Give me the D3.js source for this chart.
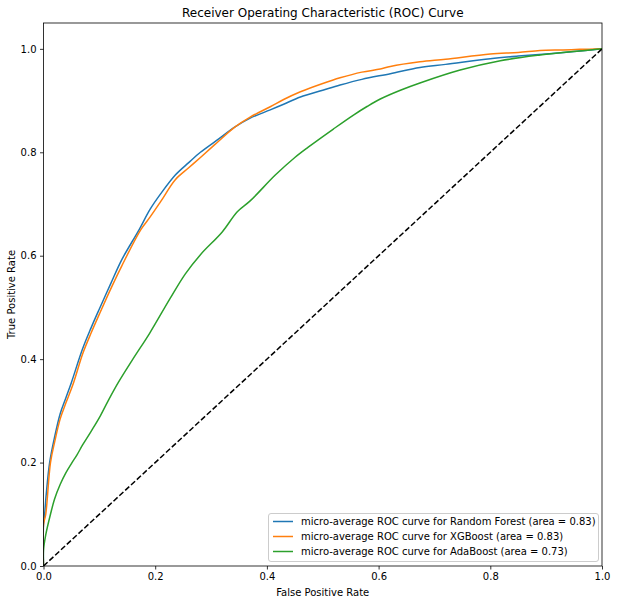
<!DOCTYPE html>
<html>
<head>
<meta charset="utf-8">
<script src="https://cdn.jsdelivr.net/npm/d3@7"></script>
<style>
  body { margin: 0; background: #fff; }
  svg { display: block; font-family: "DejaVu Sans", sans-serif; }
</style>
</head>
<body>
<svg id="chart" width="617" height="604"></svg>
<script>
const seriesNames = [
  "micro-average ROC curve for Random Forest (area = 0.83)",
  "micro-average ROC curve for XGBoost (area = 0.83)",
  "micro-average ROC curve for AdaBoost (area = 0.73)"
];
const seriesColors = ["#1f77b4", "#ff7f0e", "#2ca02c"];

const rfFpr = [0, 0, 0.002, 0.005, 0.011, 0.02, 0.03, 0.04, 0.05, 0.07, 0.085, 0.1, 0.12, 0.14, 0.17, 0.191, 0.21, 0.236, 0.26, 0.281, 0.31, 0.343, 0.37, 0.406, 0.43, 0.46, 0.5, 0.531, 0.57, 0.621, 0.674, 0.72, 0.8, 0.85, 0.9, 0.95, 1.0];
const rfTpr = [0, 0.08, 0.10, 0.14, 0.20, 0.25, 0.295, 0.325, 0.355, 0.42, 0.46, 0.497, 0.545, 0.592, 0.648, 0.69, 0.72, 0.756, 0.78, 0.80, 0.823, 0.849, 0.866, 0.882, 0.893, 0.907, 0.92, 0.930, 0.941, 0.952, 0.964, 0.97, 0.981, 0.986, 0.99, 0.995, 1.0];

const xgbFpr = [0, 0, 0.004, 0.0125, 0.02, 0.03, 0.04, 0.054, 0.07, 0.085, 0.1, 0.12, 0.14, 0.174, 0.191, 0.21, 0.236, 0.26, 0.281, 0.31, 0.343, 0.37, 0.406, 0.43, 0.46, 0.5, 0.531, 0.57, 0.603, 0.621, 0.674, 0.72, 0.8, 0.85, 0.889, 0.93, 0.96, 1.0];
const xgbTpr = [0, 0.08, 0.10, 0.20, 0.24, 0.285, 0.315, 0.355, 0.41, 0.45, 0.487, 0.535, 0.58, 0.65, 0.675, 0.705, 0.747, 0.77, 0.79, 0.818, 0.849, 0.868, 0.888, 0.902, 0.917, 0.933, 0.944, 0.955, 0.961, 0.966, 0.975, 0.98, 0.990, 0.993, 0.997, 0.998, 0.999, 1.0];

const adaFpr = [0, 0, 0.004, 0.0125, 0.02, 0.03, 0.04, 0.05, 0.06, 0.07, 0.085, 0.1, 0.115, 0.134, 0.16, 0.19, 0.227, 0.254, 0.281, 0.32, 0.347, 0.37, 0.415, 0.45, 0.474, 0.519, 0.555, 0.58, 0.603, 0.639, 0.674, 0.746, 0.818, 0.889, 0.96, 1.0];
const adaTpr = [0, 0.03, 0.06, 0.10, 0.13, 0.158, 0.18, 0.198, 0.215, 0.234, 0.26, 0.287, 0.318, 0.355, 0.40, 0.45, 0.518, 0.565, 0.602, 0.646, 0.685, 0.706, 0.756, 0.79, 0.81, 0.845, 0.872, 0.889, 0.903, 0.92, 0.934, 0.959, 0.977, 0.988, 0.996, 1.0];

const chanceFpr = [0, 1];
const chanceTpr = [0, 1];

const xTicks = [0, 0.2, 0.4, 0.6, 0.8, 1.0];
const yTicks = [0, 0.2, 0.4, 0.6, 0.8, 1.0];

const titleText = "Receiver Operating Characteristic (ROC) Curve";
const xLabel = "False Positive Rate";
const yLabel = "True Positive Rate";

const margin = { left: 43.5, right: 602, top: 23, bottom: 566 };
const svg = d3.select("#chart");

const x = d3.scaleLinear().domain([0, 1]).range([margin.left, margin.right]);
const y = d3.scaleLinear().domain([0, 1.05]).range([margin.bottom, margin.top]);

svg.append("clipPath").attr("id", "clip")
  .append("rect")
  .attr("x", margin.left).attr("y", margin.top)
  .attr("width", margin.right - margin.left).attr("height", margin.bottom - margin.top);

const series = [
  { fpr: rfFpr, tpr: rfTpr },
  { fpr: xgbFpr, tpr: xgbTpr },
  { fpr: adaFpr, tpr: adaTpr }
];

const curveLine = d3.line().x(d => x(d[0])).y(d => y(d[1])).curve(d3.curveCatmullRom.alpha(0.5));
const lineLin = d3.line().x(d => x(d[0])).y(d => y(d[1]));

const plot = svg.append("g").attr("clip-path", "url(#clip)");
series.forEach((s, i) => {
  const pts = s.fpr.map((f, j) => [f, s.tpr[j]]);
  plot.append("path")
    .attr("d", curveLine(pts))
    .attr("fill", "none")
    .attr("stroke", seriesColors[i])
    .attr("stroke-width", 1.5)
    .attr("stroke-linejoin", "round")
    .attr("stroke-linecap", "square");
});

plot.append("path")
  .attr("d", lineLin(chanceFpr.map((f, j) => [f, chanceTpr[j]])))
  .attr("fill", "none")
  .attr("stroke", "#000")
  .attr("stroke-width", 1.5)
  .attr("stroke-dasharray", "5.55,2.4");

const xAxis = d3.axisBottom(x).tickValues(xTicks).tickFormat(d3.format(".1f")).tickSize(3.5).tickPadding(3.5);
const yAxis = d3.axisLeft(y).tickValues(yTicks).tickFormat(d3.format(".1f")).tickSize(3.5).tickPadding(3.5);

const gx = svg.append("g").attr("transform", `translate(0,${margin.bottom})`).call(xAxis);
const gy = svg.append("g").attr("transform", `translate(${margin.left},0)`).call(yAxis);
[gx, gy].forEach(g => {
  g.select(".domain").remove();
  g.selectAll("text").attr("font-size", 10).attr("fill", "#000").attr("font-family", "DejaVu Sans");
  g.selectAll("line").attr("stroke", "#000").attr("stroke-width", 0.8);
});

svg.append("rect")
  .attr("x", margin.left).attr("y", margin.top)
  .attr("width", margin.right - margin.left).attr("height", margin.bottom - margin.top)
  .attr("fill", "none").attr("stroke", "#000").attr("stroke-width", 0.8);

svg.append("text")
  .attr("x", (margin.left + margin.right) / 2).attr("y", 17)
  .attr("text-anchor", "middle").attr("font-size", 12).text(titleText);
svg.append("text")
  .attr("x", (margin.left + margin.right) / 2).attr("y", 596)
  .attr("text-anchor", "middle").attr("font-size", 10).text(xLabel);
svg.append("text")
  .attr("transform", `translate(15,${(margin.top + margin.bottom) / 2}) rotate(-90)`)
  .attr("text-anchor", "middle").attr("font-size", 10).text(yLabel);

const lg = svg.append("g");
lg.append("rect")
  .attr("x", 268.5).attr("y", 513.5).attr("width", 330).attr("height", 48)
  .attr("rx", 2.5).attr("ry", 2.5)
  .attr("fill", "#fff").attr("fill-opacity", 0.8)
  .attr("stroke", "#ccc").attr("stroke-width", 1);
seriesNames.forEach((name, i) => {
  const yy = 521.5 + i * 15;
  lg.append("line")
    .attr("x1", 273).attr("x2", 293).attr("y1", yy).attr("y2", yy)
    .attr("stroke", seriesColors[i]).attr("stroke-width", 1.5);
  lg.append("text")
    .attr("x", 301).attr("y", yy + 3.5)
    .attr("font-size", 10).attr("fill", "#000").text(name);
});
</script>
</body>
</html>
